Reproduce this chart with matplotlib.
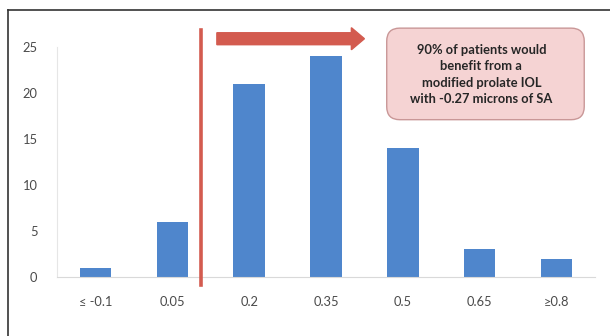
import matplotlib
matplotlib.use("Agg")
import matplotlib.pyplot as plt
from matplotlib.patches import FancyBboxPatch, FancyArrow
from matplotlib.lines import Line2D

categories = ["\u2264 -0.1", "0.05", "0.2", "0.35", "0.5", "0.65", "\u22650.8"]
counts = [1, 6, 21, 24, 14, 3, 2]
y_ticks = [0, 5, 10, 15, 20, 25]
note = "90% of patients would\nbenefit from a\nmodified prolate IOL\nwith -0.27 microns of SA"

plt.rcParams['font.family'] = ['Lato', 'DejaVu Sans']

fig = plt.figure(figsize=(6.1, 3.36), dpi=100)
ax = fig.add_axes([57 / 610, 1 - 277 / 336, 538 / 610, 230 / 336])

x = range(len(categories))
ax.bar(x, counts, width=0.41, color="#4f86cc", zorder=2)

ax.set_xlim(-0.5, len(categories) - 0.5)
ax.set_ylim(0, 25)
ax.set_yticks(y_ticks)
ax.set_xticks(list(x))
ax.set_xticklabels(categories)
ax.tick_params(length=0, labelsize=9.3, colors="#4a4a4a")
ax.tick_params(axis="x", pad=14)
ax.tick_params(axis="y", pad=14)
for side in ("top", "right"):
    ax.spines[side].set_visible(False)
ax.spines["left"].set_color("#e6e6e6")
ax.spines["bottom"].set_color("#d9d9d9")

# cut-off line and arrow
red = "#d35b4f"
ax.plot([1.38, 1.38], [-0.9, 26.8], color=red, lw=2.6, clip_on=False, zorder=3)
ax.add_patch(FancyArrow(1.58, 25.9, 1.92, 0, width=1.3, head_width=2.4,
                        head_length=0.17, length_includes_head=True,
                        color=red, clip_on=False, zorder=3))

# callout box (aspect keeps the corner radius round in pixels)
box = FancyBboxPatch((3.79, 17.1), 2.57, 9.95,
                     boxstyle="round,pad=0,rounding_size=0.17",
                     mutation_aspect=8.37,
                     facecolor="#f5d3d3", edgecolor="#c99797", lw=1.0,
                     clip_on=False, zorder=3)
ax.add_patch(box)
ax.text(5.02, 22.0, note, ha="center", va="center", fontsize=9.3,
        fontweight="bold", color="#262626", linespacing=1.45,
        zorder=4, clip_on=False)

# outer frame
fig.add_artist(Line2D([7.5 / 610, 7.5 / 610], [0, 1 - 9.5 / 336],
                      transform=fig.transFigure, color="#333333", lw=1.2))
fig.add_artist(Line2D([7.5 / 610, 1], [1 - 9.5 / 336, 1 - 9.5 / 336],
                      transform=fig.transFigure, color="#333333", lw=1.2))

fig.savefig("out.png", dpi=100)
